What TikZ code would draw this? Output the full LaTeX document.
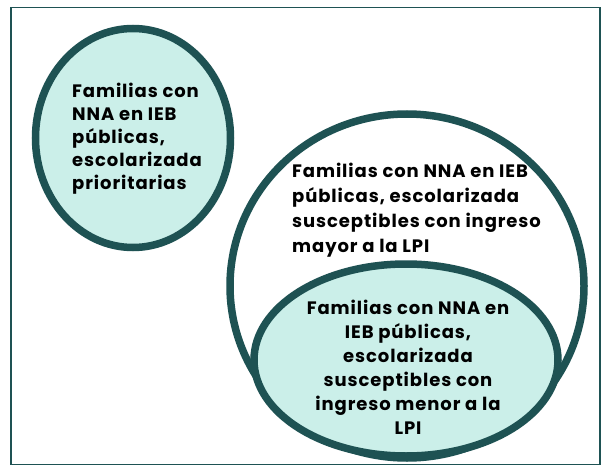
\documentclass[tikz,border=0pt]{standalone}
\usepackage{fontspec}
\setmainfont{Poppins}[LetterSpace=5]
\usetikzlibrary{shapes.geometric}
\definecolor{rim}{HTML}{1E5253}
\definecolor{mint}{HTML}{CBEFE9}
\tikzset{
  blob/.style={ellipse, draw=rim, line width=7.5pt, inner sep=0pt},
  lbl/.style={text=black, inner sep=0pt},
}
\begin{document}
\begin{tikzpicture}[x=1pt,y=-1pt]
\useasboundingbox (0,0) rectangle (605,468);
\fill[white] (0,0) rectangle (605,468);
\node[draw=rim, line width=1.5pt, minimum width=589pt, minimum height=457pt, inner sep=0pt] (frame) at (305.5,236) {};
\node[blob, fill=mint, minimum width=195pt, minimum height=219pt] (left) at (133,138) {};
\node[blob, fill=white, minimum width=354pt, minimum height=344pt] (big) at (407,286) {};
\node[blob, fill=mint, minimum width=304pt, minimum height=192pt] (inner) at (406,360) {};
\node[lbl, align=left, anchor=north west, font=\fontsize{18}{23}\selectfont\bfseries] (tleft) at (72,83) {Familias con\\NNA en IEB\\públicas,\\escolarizada\\prioritarias};
\node[lbl, align=left, anchor=north west, font=\fontsize{18}{25}\selectfont\bfseries] (tbig) at (292,163) {Familias con NNA en IEB\\públicas, escolarizada\\susceptibles con ingreso\\mayor a la LPI};
\node[lbl, align=center, anchor=north, font=\fontsize{18}{24}\selectfont\bfseries] (tinner) at (408,300) {Familias con NNA en\\IEB públicas,\\escolarizada\\susceptibles con\\ingreso menor a la\\LPI};
\end{tikzpicture}
\end{document}
